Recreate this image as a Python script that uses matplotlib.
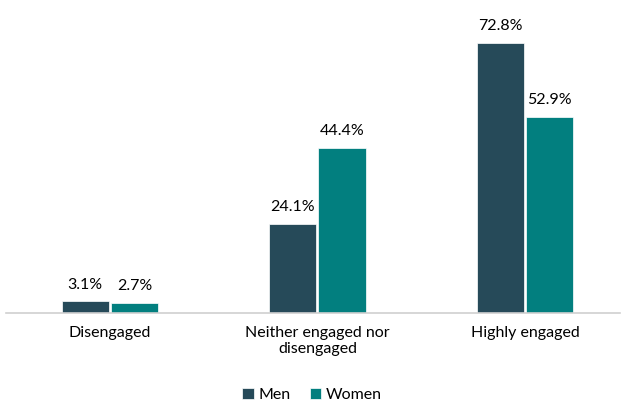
import numpy as np
import matplotlib.pyplot as plt

plt.rcParams['font.family'] = ['Lato', 'DejaVu Sans']

categories = ['Disengaged', 'Neither engaged nor\ndisengaged', 'Highly engaged']
men = [3.1, 24.1, 72.8]
women = [2.7, 44.4, 52.9]

fig = plt.figure(figsize=(6.24, 4.04), dpi=100)
ax = fig.add_axes([6 / 624, 91 / 404, 614 / 624, 297 / 404])

x = np.arange(len(categories))
w = 0.228
b1 = ax.bar(x - 0.119, men, w, color='#264a59', edgecolor='white', linewidth=0.5, label='Men')
b2 = ax.bar(x + 0.119, women, w, color='#027f7f', edgecolor='white', linewidth=0.5, label='Women')

for bars, vals in ((b1, men), (b2, women)):
    for r, v in zip(bars, vals):
        ax.annotate(f'{v}%', (r.get_x() + r.get_width() / 2, v), xytext=(0, 7),
                    textcoords='offset points', ha='center', va='bottom', fontsize=11.5)

ax.set_xlim(-0.501, 2.458)
ax.set_ylim(0, 80)
ax.set_xticks(x)
ax.set_xticklabels(categories, fontsize=11.5, linespacing=1.25)
ax.tick_params(axis='x', length=0, pad=9)
ax.set_yticks([])
for s in ['top', 'right', 'left']:
    ax.spines[s].set_visible(False)
ax.spines['bottom'].set_color('#d0d0d0')
ax.spines['bottom'].set_linewidth(1.2)

fig.legend(loc='lower center', bbox_to_anchor=(0.5, -0.03), ncol=2, frameon=False,
           fontsize=11.5, handlelength=0.7, handleheight=0.7, handletextpad=0.3, columnspacing=1.2)

fig.savefig('out.png', dpi=100)
